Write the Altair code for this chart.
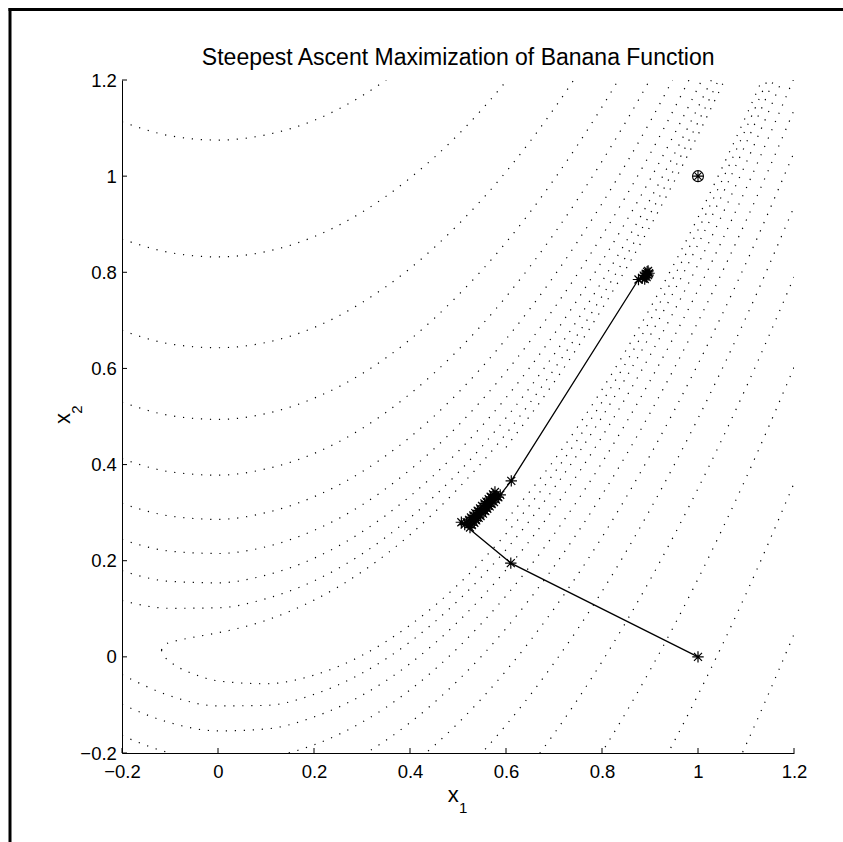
import altair as alt
import pandas as pd

# ---------------- data ----------------
TITLE = "Steepest Ascent Maximization of Banana Function"
TICKS = [-0.2, 0, 0.2, 0.4, 0.6, 0.8, 1, 1.2]

# x stations at which the dotted contour branches were read
XS = [-0.2, -0.1, 0.0, 0.1, 0.2, 0.3, 0.4, 0.5, 0.6, 0.7, 0.8, 0.9, 1.0, 1.1, 1.2]
X_TIP_A = [-0.118, -0.11, -0.1, -0.08, -0.05, 0.0, 0.1, 0.2, 0.3, 0.4, 0.5, 0.6,
           0.7, 0.8, 0.9, 1.0, 1.1, 1.2]
X_INNER = [0.6, 0.7, 0.8, 0.9, 1.0, 1.1, 1.2]

# upper (left-of-valley) contour branches
U116 = [1.113, 1.084, 1.075, 1.086, 1.116, 1.167, 1.238, 1.329]
U70 = [0.869, 0.841, 0.832, 0.843, 0.874, 0.925, 0.996, 1.086, 1.197, 1.327]
U42 = [0.679, 0.651, 0.643, 0.654, 0.685, 0.737, 0.808, 0.899, 1.009, 1.140, 1.290]
U25 = [0.530, 0.502, 0.494, 0.506, 0.538, 0.589, 0.660, 0.752, 0.862, 0.993, 1.144, 1.314]
U15 = [0.412, 0.385, 0.378, 0.391, 0.423, 0.475, 0.547, 0.638, 0.749, 0.880, 1.031, 1.201, 1.391]
U9 = [0.319, 0.293, 0.286, 0.300, 0.333, 0.385, 0.457, 0.549, 0.661, 0.792, 0.943, 1.113, 1.303]
U5 = [0.244, 0.220, 0.215, 0.229, 0.263, 0.316, 0.389, 0.481, 0.593, 0.725, 0.876, 1.046, 1.237]
U3 = [0.179, 0.157, 0.154, 0.170, 0.205, 0.260, 0.334, 0.427, 0.539, 0.671, 0.823, 0.993, 1.184, 1.393]
U2 = [0.117, 0.101, 0.102, 0.121, 0.158, 0.214, 0.289, 0.383, 0.497, 0.629, 0.781, 0.951, 1.143, 1.352]
U1 = [0.014, 0.026, 0.030, 0.035, 0.041, 0.050, 0.076, 0.118, 0.177, 0.254, 0.350, 0.464,
      0.598, 0.750, 0.921, 1.112, 1.321]
U0 = [0.436, 0.571, 0.724, 0.895, 1.086, 1.295]

# lower (right-of-valley) contour branches
D0 = [0.284, 0.409, 0.556, 0.725, 0.914, 1.125, 1.356]
D1 = [0.014, -0.001, -0.010, -0.023, -0.036, -0.050, -0.056, -0.038, 0.003, 0.066, 0.150,
      0.256, 0.382, 0.530, 0.699, 0.888, 1.099, 1.330]
D2 = [-0.037, -0.081, -0.102, -0.101, -0.078, -0.034, 0.031, 0.117, 0.223, 0.351, 0.499,
      0.668, 0.858, 1.068, 1.299]
D3 = [-0.099, -0.137, -0.154, -0.150, -0.125, -0.080, -0.014, 0.073, 0.181, 0.309, 0.458,
      0.627, 0.816, 1.027, 1.258]
D5 = [-0.164, -0.200, -0.215, -0.209, -0.183, -0.136, -0.069, 0.019, 0.127, 0.255, 0.404,
      0.574, 0.763, 0.974, 1.204]
D9 = [-0.239, -0.273, -0.286, -0.280, -0.253, -0.205, -0.137, -0.049, 0.059, 0.188, 0.337,
      0.507, 0.697, 0.907, 1.137]
D15 = [-0.343, -0.295, -0.227, -0.138, -0.029, 0.100, 0.249, 0.419, 0.609, 0.819, 1.049]
D25 = [-0.409, -0.340, -0.252, -0.142, -0.013, 0.136, 0.306, 0.496, 0.706, 0.936]
D42 = [-0.399, -0.289, -0.160, -0.010, 0.160, 0.350, 0.560, 0.790]
D70 = [-0.477, -0.347, -0.198, -0.028, 0.162, 0.372, 0.602]
D116 = [-0.589, -0.439, -0.269, -0.079, 0.131, 0.361]
D194 = [-0.583, -0.393, -0.183, 0.047]

CONTOURS = [
    ("U116", XS, U116), ("U70", XS, U70), ("U42", XS, U42), ("U25", XS, U25),
    ("U15", XS, U15), ("U9", XS, U9), ("U5", XS, U5), ("U3", XS, U3), ("U2", XS, U2),
    ("U1", X_TIP_A, U1), ("U0", X_INNER, U0),
    ("D0", X_INNER, D0), ("D1", X_TIP_A, D1), ("D2", XS, D2), ("D3", XS, D3),
    ("D5", XS, D5), ("D9", XS, D9), ("D15", XS[4:], D15), ("D25", XS[5:], D25),
    ("D42", XS[7:], D42), ("D70", XS[8:], D70), ("D116", XS[9:], D116),
    ("D194", XS[11:], D194),
]

# steepest ascent iterates
PATH_X = [1.000, 0.610, 0.507,
          0.514, 0.525, 0.518, 0.529, 0.523, 0.534, 0.527, 0.538, 0.532, 0.543,
          0.536, 0.547, 0.541, 0.552, 0.546, 0.557, 0.550, 0.561, 0.555, 0.566,
          0.559, 0.570, 0.564, 0.575, 0.568, 0.579, 0.573, 0.584, 0.577, 0.588,
          0.611, 0.876,
          0.884, 0.889, 0.887, 0.893, 0.891, 0.896, 0.894, 0.898, 0.896]
PATH_Y = [0.000, 0.195, 0.280,
          0.275, 0.269, 0.280, 0.274, 0.285, 0.279, 0.290, 0.284, 0.294, 0.289,
          0.299, 0.293, 0.304, 0.298, 0.309, 0.303, 0.314, 0.308, 0.319, 0.313,
          0.323, 0.318, 0.328, 0.322, 0.333, 0.327, 0.338, 0.332, 0.343, 0.337,
          0.366, 0.785,
          0.788, 0.786, 0.793, 0.790, 0.797, 0.794, 0.801, 0.798, 0.803]

OPT_X = [1.0]
OPT_Y = [1.0]

# ---------------- chart ----------------
W, H = 672, 673
FONT = "Liberation Sans"

rows = []
for name, xs, ys in CONTOURS:
    for i, (x, y) in enumerate(zip(xs, ys)):
        rows.append({"c": name, "i": i, "x": x, "y": y})
cdf = pd.DataFrame(rows)
pdf = pd.DataFrame({"x": PATH_X, "y": PATH_Y, "i": list(range(len(PATH_X)))})
odf = pd.DataFrame({"x": OPT_X, "y": OPT_Y})
tdf = pd.DataFrame({"t": TICKS})

xscale = alt.Scale(domain=[-0.2, 1.2], nice=False, zero=False)
yscale = alt.Scale(domain=[-0.2, 1.2], nice=False, zero=False)

common_axis = dict(values=TICKS, format=".1~f", title=None, ticks=False, tickSize=0,
                   grid=False, domainColor="black", domainWidth=1, labelFont=FONT,
                   labelFontSize=18.5, labelColor="black", labelFlush=False,
                   labelOverlap=False)
xaxis = alt.Axis(labelPadding=9.6, **common_axis)
yaxis = alt.Axis(labelPadding=5.6, **common_axis)

X = alt.X("x:Q", scale=xscale, axis=xaxis)
Y = alt.Y("y:Q", scale=yscale, axis=yaxis)

contours = alt.Chart(cdf).mark_line(
    clip=True, color="black", strokeWidth=1.2, strokeDash=[1.2, 7.8],
    interpolate="monotone").encode(x=X, y=Y, detail="c:N", order="i:Q")

path_line = alt.Chart(pdf).mark_line(color="black", strokeWidth=1.3).encode(
    x=X, y=Y, order="i:Q")

ASTER = "M-1,0L1,0M0,-1L0,1M-0.7,-0.7L0.7,0.7M-0.7,0.7L0.7,-0.7"
path_pts = alt.Chart(pdf).mark_point(
    shape=ASTER, size=130, color="black", strokeWidth=1.2, filled=False, opacity=1
).encode(x=X, y=Y)

opt_circle = alt.Chart(odf).mark_point(
    shape="circle", size=120, color="black", strokeWidth=1.1, filled=False, opacity=1
).encode(x=X, y=Y)
opt_star = alt.Chart(odf).mark_point(
    shape=ASTER, size=110, color="black", strokeWidth=1.1, filled=False, opacity=1
).encode(x=X, y=Y)

xticks = alt.Chart(tdf).mark_rule(color="black", strokeWidth=1).encode(
    x=alt.X("t:Q", scale=xscale), y=alt.value(H), y2=alt.value(H - 5))
yticks = alt.Chart(tdf).mark_rule(color="black", strokeWidth=1).encode(
    y=alt.Y("t:Q", scale=yscale), x=alt.value(0), x2=alt.value(5))

one = pd.DataFrame({"k": [0]})
frame_top = alt.Chart(one).mark_rule(color="black", strokeWidth=3).encode(
    x=alt.value(-113.5), x2=alt.value(725), y=alt.value(-70.5))
frame_left = alt.Chart(one).mark_rule(color="black", strokeWidth=3).encode(
    x=alt.value(-112), y=alt.value(-72), y2=alt.value(770))

title = alt.Chart(pd.DataFrame({"t": [TITLE]})).mark_text(
    font=FONT, fontSize=23, color="black", align="center", baseline="alphabetic"
).encode(x=alt.value(336.2), y=alt.value(-14.6), text="t:N")

xlab = alt.Chart(pd.DataFrame({"t": ["x"]})).mark_text(
    font=FONT, fontSize=22, color="black", align="center", baseline="alphabetic"
).encode(x=alt.value(331.2), y=alt.value(721.7), text="t:N")
xsub = alt.Chart(pd.DataFrame({"t": ["1"]})).mark_text(
    font=FONT, fontSize=15, color="black", align="center", baseline="alphabetic"
).encode(x=alt.value(341.2), y=alt.value(732.7), text="t:N")

ylab = alt.Chart(pd.DataFrame({"t": ["x"]})).mark_text(
    font=FONT, fontSize=22, color="black", align="center", baseline="alphabetic",
    angle=270).encode(x=alt.value(-52.3), y=alt.value(338.5), text="t:N")
ysub = alt.Chart(pd.DataFrame({"t": ["2"]})).mark_text(
    font=FONT, fontSize=15, color="black", align="center", baseline="alphabetic",
    angle=270).encode(x=alt.value(-40.3), y=alt.value(329.5), text="t:N")

chart = alt.layer(
    contours, path_line, path_pts, opt_circle, opt_star, xticks, yticks,
    frame_top, frame_left, title, xlab, xsub, ylab, ysub
).properties(
    width=W, height=H,
    autosize=alt.AutoSizeParams(type="none"),
    padding={"left": 122, "top": 80, "right": 843 - 122 - W, "bottom": 842 - 80 - H},
    background="white",
).configure_view(stroke=None)

chart.save("out.html", embed_options={"renderer": "svg", "actions": False})
